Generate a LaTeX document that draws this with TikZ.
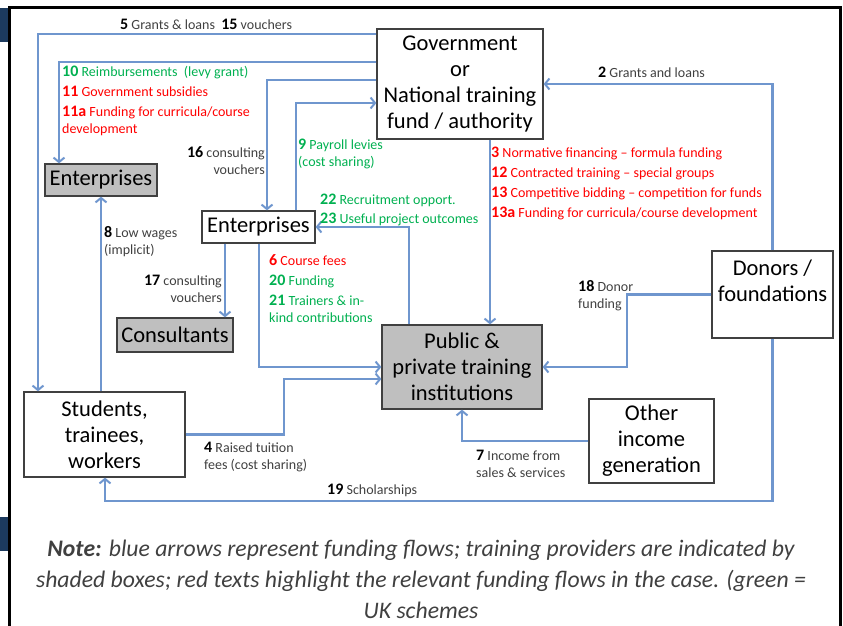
\documentclass[tikz,border=0pt]{standalone}
\usepackage{fontspec}
\setmainfont{Carlito}
\usetikzlibrary{arrows.meta}

\definecolor{flowblue}{RGB}{111,150,206}
\definecolor{boxline}{RGB}{64,64,64}
\definecolor{shade}{RGB}{191,191,191}
\definecolor{lblgray}{RGB}{64,64,64}
\definecolor{fundred}{RGB}{255,0,0}
\definecolor{ukgreen}{RGB}{0,176,80}
\definecolor{navy}{RGB}{28,58,94}

\newcommand\boxfont{\fontsize{22.5}{26}\selectfont}
\newcommand\lblfont{\fontsize{14}{17}\selectfont}
\newcommand\notefont{\fontsize{23.7}{31}\selectfont\itshape}
\newcommand\fnum[1]{{\fontsize{16}{17}\selectfont\bfseries #1}}
\newcommand\knum[1]{{\color{black}\fnum{#1}}}

\tikzset{
  box/.style={draw=boxline, line width=1.3pt, fill=white, font=\boxfont,
    align=center, inner sep=0pt},
  provider/.style={box, fill=shade},
  flow/.style={draw=flowblue, line width=2.2pt,
    -{Straight Barb[length=4.5pt,width=11pt,line width=2pt]}},
  lbl/.style={font=\lblfont, text=lblgray, align=left, inner sep=0pt},
  frame/.style={line width=2.7pt, black},
}

\begin{document}
\begin{tikzpicture}[x=1pt, y=-1pt]
    \useasboundingbox (0,0) rectangle (843,626);

    % page frame
    \fill[navy] (0,8) rectangle (8.5,42);
    \fill[navy] (0,517) rectangle (8.5,551);
    \draw[frame] (9.7,626) -- (9.7,7.7) -- (840.5,7.7) -- (840.5,626);

    % actors
    \node[box, minimum width=166pt, minimum height=110pt] (gov) at (460,84)
        {Government\\or\\National training\\fund / authority};
    \node[provider, minimum width=112pt, minimum height=32pt] (entA) at (101,180) {Enterprises};
    \node[box, minimum width=113pt, minimum height=32pt] (entB) at (258.5,227) {Enterprises};
    \node[provider, minimum width=116pt, minimum height=34pt] (cons) at (175,335) {Consultants};
    \node[provider, minimum width=160pt, minimum height=84pt] (pti) at (462,367)
        {Public \&\\private training\\institutions};
    \node[box, minimum width=121pt, minimum height=87pt] (donors) at (772.5,294.5) {};
    \node[font=\boxfont, align=center, inner sep=0pt, anchor=north] (donorstxt)
        at ([yshift=-9pt]donors.north) {Donors /\\foundations};
    \node[box, minimum width=161pt, minimum height=85pt] (stud) at (104.5,434.5)
        {Students,\\trainees,\\workers};
    \node[box, minimum width=125pt, minimum height=84pt] (other) at (651.5,441)
        {Other\\income\\generation};

    % funding flows
    \draw[flow] (gov.west |- 0,34) -| (stud.north -| 38,0);
    \draw[flow] (gov.west |- 0,62) -| (entA.north -| 59,0);
    \draw[flow] (gov.west |- 0,80) -| (entB.north -| 267,0);
    \draw[flow] (entB.north -| 296,0) |- (gov.west |- 0,103);
    \draw[flow] (donors.north) |- (gov.east);
    \draw[flow] (gov.south -| 490,0) -- (pti.north -| 490,0);
    \draw[flow] (pti.north -| 409,0) |- (entB.east);
    \draw[flow] (stud.north -| 101,0) -- (entA.south -| 101,0);
    \draw[flow] (entB.south -| 225,0) -- (cons.north -| 225,0);
    \draw[flow] (entB.south -| 259,0) |- (pti.west);
    \draw[flow] (stud.east) -- (stud.east -| 284,0) -- (284,379) -- (pti.west |- 0,379);
    \draw[flow] (donors.west) -- (donors.west -| 627,0) |- (pti.east);
    \draw[flow] (other.west) -| (pti.south -| 462,0);
    \draw[flow] (donors.south) -- (donors.south |- 0,501) -| (stud.south -| 105,0);

    % flow labels
    \node[lbl, anchor=west] (l5) at (120,24)
        {\knum{5} Grants \& loans\ \ \knum{15} vouchers};
    \node[lbl, anchor=west] (l10) at (62,100.5)
        {\color{ukgreen}\fnum{10} Reimbursements\ \ (levy grant)\\[3pt]
         \color{fundred}\fnum{11} Government subsidies\\[3pt]
         \color{fundred}\fnum{11a} Funding for curricula/course\\
         \color{fundred}development};
    \node[lbl, anchor=east, align=right] (l16) at (265,161) {\knum{16} consulting\\vouchers};
    \node[lbl, anchor=west, text=ukgreen] (l9) at (298,154) {\fnum{9} Payroll levies\\(cost sharing)};
    \node[lbl, anchor=west] (l2) at (598,72) {\knum{2} Grants and loans};
    \node[lbl, anchor=west, text=fundred] (l3) at (491,183)
        {\fnum{3} Normative financing -- formula funding\\[3pt]
         \fnum{12} Contracted training -- special groups\\[3pt]
         \fnum{13} Competitive bidding -- competition for funds\\[3pt]
         \fnum{13a} Funding for curricula/course development};
    \node[lbl, anchor=west, text=ukgreen] (l22) at (320,209.5)
        {\fnum{22} Recruitment opport.\\[2pt]\fnum{23} Useful project outcomes};
    \node[lbl, anchor=west] (l8) at (104,242) {\knum{8} Low wages\\(implicit)};
    \node[lbl, anchor=east, align=right] (l17) at (222,288.5) {\knum{17} consulting\\vouchers};
    \node[lbl, anchor=west] (l6) at (269,289)
        {\color{fundred}\fnum{6} Course fees\\[3pt]
         \color{ukgreen}\fnum{20} Funding\\[3pt]
         \color{ukgreen}\fnum{21} Trainers \& in-\\
         \color{ukgreen}kind contributions};
    \node[lbl, anchor=west] (l18) at (578,296) {\knum{18} Donor\\funding};
    \node[lbl, anchor=west] (l4) at (204,457) {\knum{4} Raised tuition\\fees (cost sharing)};
    \node[lbl, anchor=west] (l7) at (476,464) {\knum{7} Income from\\sales \& services};
    \node[lbl, anchor=west] (l19) at (327,490) {\knum{19} Scholarships};

    % note
    \node[font=\notefont, text=lblgray, align=center, inner sep=0pt] (note) at (421,579)
        {\textbf{Note:} blue arrows represent funding flows; training providers are indicated by\\
         shaded boxes; red texts highlight the relevant funding flows in the case. (green =\\
         UK schemes};
\end{tikzpicture}
\end{document}
